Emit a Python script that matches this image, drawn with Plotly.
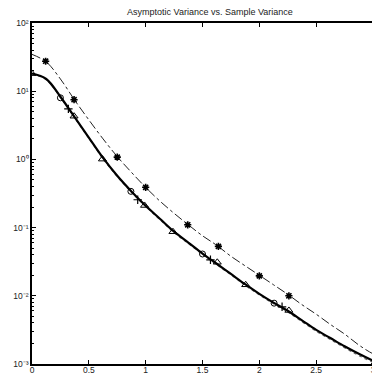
import plotly.graph_objects as go

# Grid for the smooth curves
x_grid = [0, 0.125, 0.25, 0.375, 0.5, 0.625, 0.75, 0.875, 1.0, 1.125, 1.25, 1.375,
          1.5, 1.625, 1.75, 1.875, 2.0, 2.125, 2.25, 2.375, 2.5, 2.625, 2.75, 2.875, 3.0, 3.06]

# Asymptotic variance (solid thick line)
asym_var = [18.2, 15.1, 8.3, 4.17, 2.09, 1.05, 0.575, 0.339, 0.209, 0.135, 0.0871, 0.0603,
            0.0417, 0.0295, 0.0209, 0.0148, 0.0107, 0.00794, 0.00603, 0.00437, 0.00316,
            0.0024, 0.00182, 0.00141, 0.00112, 0.00102]

# Sample variance (dotted line, close to the asymptotic one)
samp_var = [17.8, 14.8, 8.1, 4.07, 2.04, 1.02, 0.56, 0.33, 0.204, 0.131, 0.0845, 0.0585,
            0.0405, 0.0286, 0.0203, 0.0143, 0.0103, 0.00766, 0.00578, 0.00418, 0.00302,
            0.00229, 0.00173, 0.00133, 0.00106, 0.00098]

# Upper curve (dash-dot)
upper_var = [34.7, 26.9, 15.1, 7.41, 3.8, 2.0, 1.1, 0.646, 0.389, 0.245, 0.162, 0.11,
             0.0759, 0.055, 0.038, 0.0275, 0.02, 0.0145, 0.0105, 0.00741, 0.00537,
             0.0038, 0.00275, 0.0019, 0.00141, 0.00129]

# Marker series
circ_x = [0.25, 0.87, 1.50, 2.13]
circ_y = [8.0, 0.34, 0.041, 0.0078]

plus_x = [0.32, 0.93, 1.57, 2.20]
plus_y = [5.5, 0.256, 0.0337, 0.0069]

tri_x = [0.0, 0.37, 0.62, 0.99, 1.24, 1.63, 1.88, 2.26, 3.02]
tri_y = [18.1, 4.3, 1.01, 0.211, 0.087, 0.031, 0.0145, 0.0061, 0.00106]

star_x = [0.12, 0.37, 0.75, 1.0, 1.37, 1.64, 2.0, 2.26]
star_y = [27.5, 7.5, 1.08, 0.39, 0.11, 0.053, 0.0196, 0.01]

x_ticks = [0, 0.5, 1, 1.5, 2, 2.5, 3]
y_ticks = [0.001, 0.01, 0.1, 1, 10, 100]
y_tick_text = ["10\u207b\u00b3", "10\u207b\u00b2", "10\u207b\u00b9",
               "10\u2070", "10\u00b9", "10\u00b2"]

FONT = "Liberation Sans Narrow, Liberation Sans, Arial, sans-serif"

fig = go.Figure()
fig.add_trace(go.Scatter(x=x_grid, y=upper_var, mode="lines",
                         line=dict(color="#222", width=1, dash="dashdot", shape="spline"),
                         showlegend=False))
fig.add_trace(go.Scatter(x=x_grid, y=samp_var, mode="lines",
                         line=dict(color="#666", width=1.2, dash="dot", shape="spline"),
                         showlegend=False))
fig.add_trace(go.Scatter(x=x_grid, y=asym_var, mode="lines",
                         line=dict(color="black", width=2.2, shape="spline"),
                         showlegend=False))
fig.add_trace(go.Scatter(x=circ_x, y=circ_y, mode="markers",
                         marker=dict(symbol="circle-open", size=6, color="black",
                                     line=dict(width=1)), showlegend=False))
fig.add_trace(go.Scatter(x=plus_x, y=plus_y, mode="markers",
                         marker=dict(symbol="cross-thin-open", size=6, color="black",
                                     line=dict(width=1.2)), showlegend=False))
fig.add_trace(go.Scatter(x=tri_x, y=tri_y, mode="markers",
                         marker=dict(symbol="triangle-up-open", size=7, color="black",
                                     line=dict(width=1)), showlegend=False))
fig.add_trace(go.Scatter(x=star_x, y=star_y, mode="markers",
                         marker=dict(symbol="asterisk-open", size=6, color="black",
                                     line=dict(width=1.6)), showlegend=False))

# The page body has an 8 px margin, so the figure is 8 px smaller and shifted.
fig.update_layout(
    width=372, height=368,
    margin=dict(l=24, r=0, t=15, b=12),
    paper_bgcolor="white", plot_bgcolor="white",
    title=dict(text="Asymptotic Variance vs. Sample Variance", x=0.543, xanchor="center",
               y=0.989, yanchor="middle",
               font=dict(family=FONT, size=9, color="#222")),
    font=dict(family=FONT, size=8, color="#222"),
)
fig.update_xaxes(range=[0, 3.0616], tickvals=x_ticks, ticktext=[str(v) for v in x_ticks],
                 showgrid=False, zeroline=False, showline=True, linecolor="black",
                 linewidth=1.6, mirror="ticks", ticks="inside", ticklen=4,
                 tickcolor="black", tickwidth=1, automargin=False,
                 ticklabelstandoff=-3,
                 tickfont=dict(family=FONT, size=8.5, color="#222"))
fig.update_yaxes(type="log", range=[-3, 2], tickvals=y_ticks, ticktext=y_tick_text,
                 showgrid=False, zeroline=False, showline=True, linecolor="black",
                 linewidth=1.5, mirror=False, ticks="inside", ticklen=4,
                 tickcolor="black", tickwidth=1, automargin=False,
                 minor=dict(ticks="inside", ticklen=2, tickcolor="black", dtick="D1",
                            showgrid=False),
                 tickfont=dict(family=FONT, size=8.5, color="#222"))

fig.write_html("out.html")
